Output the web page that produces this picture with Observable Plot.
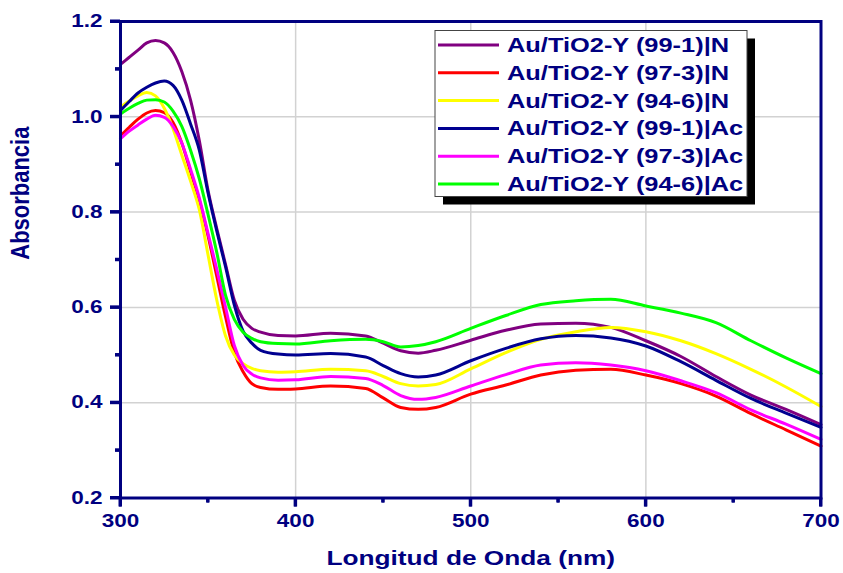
<!DOCTYPE html>
<html><head><meta charset="utf-8">
<script src="https://cdn.jsdelivr.net/npm/d3@7"></script>
<script src="https://cdn.jsdelivr.net/npm/@observablehq/plot@0.6"></script>
<style>
html,body{margin:0;padding:0;background:#fff;}
#chart{width:843px;height:573px;position:relative;}
</style></head><body><div id="chart"></div>
<script>
// Wavelength (nm)
const wavelength = [300,305,310,315,320,325,330,335,340,345,350,355,360,365,370,375,380,390,400,420,440,450,460,470,480,500,520,540,560,580,600,620,640,660,680,700];

const s99_1_N  = [1.110,1.125,1.140,1.155,1.160,1.155,1.135,1.095,1.035,0.950,0.845,0.765,0.690,0.615,0.575,0.556,0.548,0.541,0.540,0.546,0.540,0.525,0.509,0.504,0.510,0.531,0.552,0.565,0.567,0.558,0.530,0.497,0.455,0.416,0.386,0.354];
const s97_3_N  = [0.960,0.978,0.995,1.008,1.013,1.009,0.988,0.945,0.885,0.825,0.750,0.665,0.580,0.505,0.465,0.440,0.432,0.428,0.429,0.435,0.430,0.410,0.390,0.386,0.390,0.418,0.437,0.458,0.468,0.470,0.458,0.440,0.414,0.377,0.343,0.309];
const s94_6_N  = [1.021,1.033,1.044,1.051,1.044,1.018,0.975,0.920,0.865,0.805,0.710,0.615,0.540,0.500,0.482,0.472,0.467,0.464,0.465,0.470,0.467,0.455,0.440,0.435,0.438,0.471,0.505,0.533,0.549,0.558,0.549,0.530,0.503,0.470,0.433,0.392];
const s99_1_Ac = [1.013,1.032,1.050,1.062,1.071,1.075,1.066,1.035,0.985,0.930,0.840,0.760,0.685,0.605,0.550,0.525,0.510,0.502,0.500,0.503,0.496,0.478,0.461,0.454,0.458,0.488,0.514,0.534,0.541,0.536,0.519,0.486,0.447,0.409,0.378,0.348];
const s97_3_Ac = [0.954,0.970,0.983,0.995,1.003,0.999,0.980,0.945,0.890,0.830,0.755,0.680,0.600,0.520,0.478,0.460,0.452,0.447,0.448,0.455,0.451,0.436,0.415,0.407,0.411,0.435,0.459,0.479,0.484,0.479,0.467,0.446,0.421,0.385,0.355,0.323];
const s94_6_Ac = [1.006,1.018,1.028,1.035,1.036,1.031,1.012,0.980,0.930,0.870,0.795,0.715,0.625,0.575,0.548,0.535,0.528,0.524,0.523,0.530,0.533,0.528,0.517,0.520,0.528,0.556,0.583,0.606,0.614,0.617,0.603,0.588,0.568,0.530,0.494,0.461];

const seriesNames = ["Au/TiO2-Y (99-1)|N","Au/TiO2-Y (97-3)|N","Au/TiO2-Y (94-6)|N","Au/TiO2-Y (99-1)|Ac","Au/TiO2-Y (97-3)|Ac","Au/TiO2-Y (94-6)|Ac"];
const seriesColors = ["#800080","#FF0000","#FFFF00","#000090","#FF00FF","#00FF00"];
const seriesValues = [s99_1_N, s97_3_N, s94_6_N, s99_1_Ac, s97_3_Ac, s94_6_Ac];

const xMajor = [300,400,500,600,700];
const xMinor = [350,450,550,650];
const yMajor = [0.2,0.4,0.6,0.8,1.0,1.2];
const yMinor = [0.3,0.5,0.7,0.9,1.1];
const xGrid = [400,500,600];
const yGrid = [0.4,0.6,0.8,1.0];

const data = seriesNames.flatMap((name, i) => wavelength.map((w, j) => ({w, a: seriesValues[i][j], name})));

const navy = "#000080";
const font = "'Liberation Sans', Arial, sans-serif";
const noLabel = () => "";

const svg = Plot.plot({
  width: 843, height: 573,
  marginLeft: 120, marginRight: 22.5, marginTop: 21, marginBottom: 75.5,
  style: {fontFamily: font},
  x: {domain: [300, 700]},
  y: {domain: [0.2, 1.2]},
  color: {domain: seriesNames, range: seriesColors},
  marks: [
    Plot.gridX(xGrid, {stroke: "#d2d2d2", strokeOpacity: 1, strokeWidth: 1.5}),
    Plot.gridY(yGrid, {stroke: "#d2d2d2", strokeOpacity: 1, strokeWidth: 1.5}),
    Plot.line(data, {x: "w", y: "a", z: "name", stroke: "name", strokeWidth: 3, curve: "monotone-x"}),
    Plot.frame({stroke: navy, strokeWidth: 3}),
    Plot.axisX(xMajor, {tickSize: 9, tickFormat: noLabel, stroke: navy, strokeWidth: 3, label: null}),
    Plot.axisX(xMinor, {tickSize: 5, tickFormat: noLabel, stroke: navy, strokeWidth: 3, label: null}),
    Plot.axisY(yMajor, {tickSize: 10, tickFormat: noLabel, stroke: navy, strokeWidth: 3, label: null}),
    Plot.axisY(yMinor, {tickSize: 5, tickFormat: noLabel, stroke: navy, strokeWidth: 3, label: null}),
    Plot.axisX(xMajor, {tickSize: 0, tickPadding: 16, fontSize: 18, fontWeight: "bold", fill: navy, stroke: "none", label: null}),
    Plot.axisY(yMajor, {tickSize: 0, tickPadding: 18, fontSize: 18, fontWeight: "bold", fill: navy, stroke: "none", tickFormat: d => d.toFixed(1), label: null}),
    Plot.text(["Longitud de Onda (nm)"], {frameAnchor: "bottom", dy: 67, fontSize: 21, fontWeight: "bold", fill: navy}),
    Plot.text(["Absorbancia"], {frameAnchor: "left", dx: -100, rotate: -90, fontSize: 22, fontWeight: "bold", fill: navy})
  ]
});

// horizontal stretch of the text, as in the original picture
d3.select(svg).selectAll("text").each(function() {
  const tr = this.getAttribute("transform") || "";
  const sc = this.textContent === "Absorbancia" ? "scale(1,1.2)" : "scale(1.25,1)";
  this.setAttribute("transform", `${tr} ${sc}`);
});

// explicit outward tick marks placed through the plot's own scales
try {
  const sx = svg.scale("x"), sy = svg.scale("y");
  const x0 = sx.apply(300), y0 = sy.apply(0.2);
  const tg = d3.select(svg).append("g").attr("stroke", navy).attr("stroke-width", 3);
  xMajor.forEach(v => tg.append("line").attr("x1", sx.apply(v)).attr("x2", sx.apply(v)).attr("y1", y0).attr("y2", y0 + 9));
  xMinor.forEach(v => tg.append("line").attr("x1", sx.apply(v)).attr("x2", sx.apply(v)).attr("y1", y0).attr("y2", y0 + 5));
  yMajor.forEach(v => tg.append("line").attr("y1", sy.apply(v)).attr("y2", sy.apply(v)).attr("x1", x0).attr("x2", x0 - 10));
  yMinor.forEach(v => tg.append("line").attr("y1", sy.apply(v)).attr("y2", sy.apply(v)).attr("x1", x0).attr("x2", x0 - 5));
} catch (e) {}

// Legend box with drop shadow
const lg = d3.select(svg).append("g").attr("font-family", font).attr("font-weight", "bold").attr("text-anchor", "start");
const bx = 435, by = 30.5, bw = 312, bh = 166, rowH = 27.8;
lg.append("rect").attr("x", bx + 8).attr("y", by + 8).attr("width", bw).attr("height", bh).attr("fill", "#000");
lg.append("rect").attr("x", bx).attr("y", by).attr("width", bw).attr("height", bh).attr("fill", "#fff").attr("stroke", "#444").attr("stroke-width", 1);
seriesNames.forEach((name, i) => {
  const yy = by + 14.5 + i * rowH;
  lg.append("line").attr("x1", bx + 3).attr("x2", bx + 64).attr("y1", yy).attr("y2", yy)
    .attr("stroke", seriesColors[i]).attr("stroke-width", 3);
  lg.append("text").attr("transform", `translate(${bx + 72},${yy}) scale(1.27,1)`).attr("text-anchor", "start")
    .attr("dy", "0.35em").attr("font-size", 20).attr("fill", navy).text(name);
});

document.getElementById("chart").appendChild(svg);
</script>
</body></html>
